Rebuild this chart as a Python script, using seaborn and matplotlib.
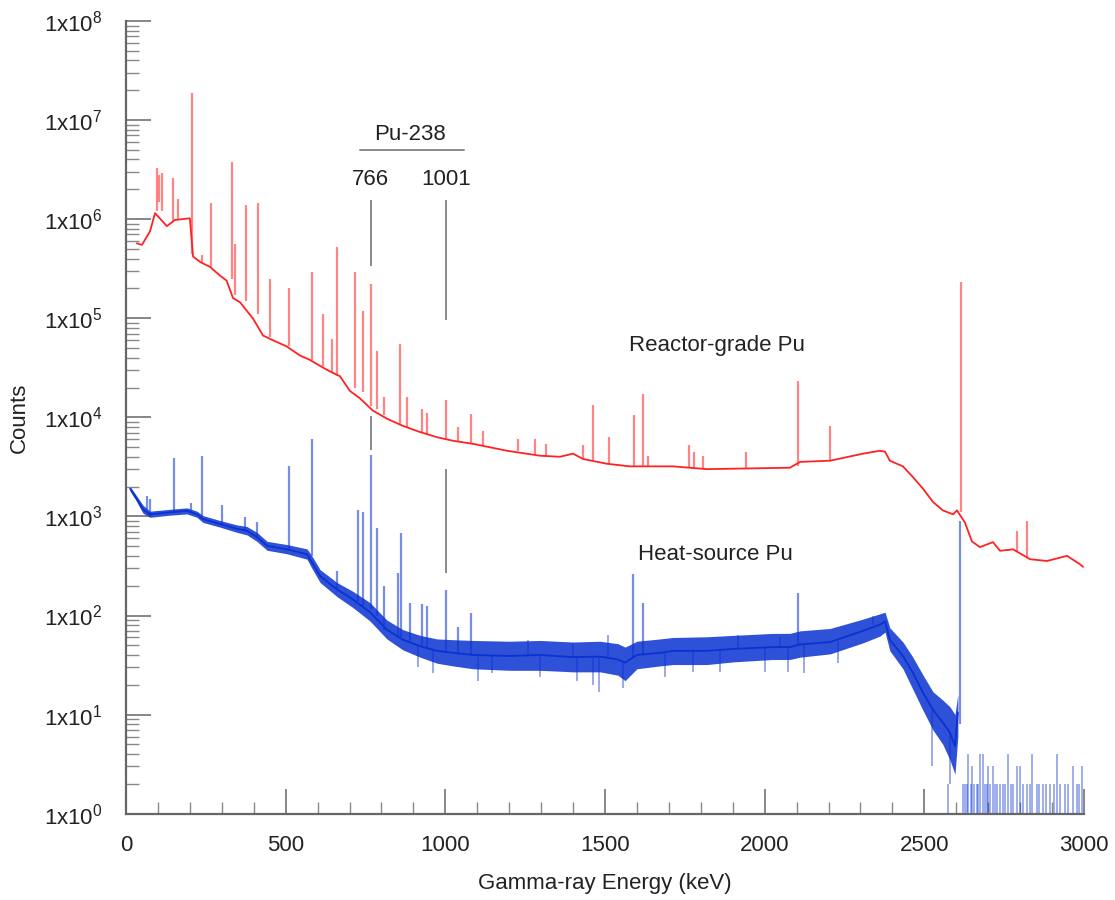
import numpy as np
import matplotlib
matplotlib.use('Agg')
import matplotlib.pyplot as plt
import seaborn as sns
from matplotlib.ticker import FixedLocator, MultipleLocator, FuncFormatter, NullFormatter

# ---------------- data ----------------
# Reactor-grade Pu: continuum
red_base_E = [34, 50, 75, 91, 128, 153, 200, 210, 232, 263, 294, 315, 335, 357, 398, 429, 460,
              503, 545, 576, 608, 639, 670, 701, 733, 773, 817, 867, 921, 974, 1024, 1087, 1193,
              1296, 1359, 1400, 1431, 1506, 1578, 1713, 1819, 2079, 2111, 2205, 2308, 2361, 2377,
              2392, 2433, 2464, 2496, 2527, 2558, 2590, 2602, 2627, 2649, 2674, 2715, 2737, 2778,
              2831, 2884, 2947, 2987, 2997]
red_base_C = [5.7e5, 5.5e5, 7.5e5, 1.15e6, 8.5e5, 9.8e5, 1.02e6, 4.2e5, 3.7e5, 3.3e5, 2.7e5, 2.4e5,
              1.6e5, 1.45e5, 9.9e4, 6.7e4, 6.0e4, 5.2e4, 4.2e4, 3.8e4, 3.3e4, 2.9e4, 2.6e4, 1.85e4,
              1.55e4, 1.17e4, 9.7e3, 8.2e3, 7.1e3, 6.3e3, 5.8e3, 5.4e3, 4.6e3, 4.1e3, 4.0e3, 4.3e3,
              3.8e3, 3.4e3, 3.2e3, 3.2e3, 3.0e3, 3.1e3, 3.55e3, 3.65e3, 4.3e3, 4.6e3, 4.5e3, 3.65e3,
              3.2e3, 2.5e3, 1.9e3, 1.4e3, 1.15e3, 1.05e3, 1.15e3, 870, 560, 490, 550, 450, 465,
              370, 355, 400, 330, 310]
# Reactor-grade Pu: peaks (energy, top, local continuum)
red_peak_E = [96, 104, 113, 147, 163, 208, 238, 265, 332, 341, 375, 413, 451, 511, 582, 617, 645,
              662, 717, 742, 766, 786, 808, 857, 880, 926, 942, 1001, 1040, 1079, 1118, 1228, 1281,
              1315, 1431, 1462, 1513, 1591, 1619, 1634, 1763, 1779, 1807, 1942, 2103, 2205, 2615,
              2790, 2821]
red_peak_C = [3.3e6, 2.8e6, 2.9e6, 2.6e6, 1.6e6, 1.87e7, 4.3e5, 1.45e6, 3.8e6, 5.6e5, 1.4e6, 1.45e6,
              2.5e5, 2.0e5, 2.9e5, 1.1e5, 6.2e4, 5.2e5, 2.9e5, 1.17e5, 2.2e5, 4.7e4, 1.6e4, 5.5e4,
              1.6e4, 1.2e4, 1.1e4, 1.48e4, 8.0e3, 1.08e4, 7.3e3, 6.1e3, 6.1e3, 5.4e3, 5.2e3, 1.34e4,
              6.3e3, 1.05e4, 1.7e4, 4.1e3, 5.3e3, 4.5e3, 4.1e3, 4.5e3, 2.3e4, 8.2e3, 2.3e5, 720, 900]
red_peak_base = [1.2e6, 1.5e6, 1.2e6, 9.5e5, 9.8e5, 4.5e5, 3.6e5, 3.3e5, 2.5e5, 1.7e5, 1.5e5, 1.1e5,
                 6.5e4, 5.2e4, 3.8e4, 3.3e4, 2.8e4, 2.6e4, 2.0e4, 1.8e4, 1.3e4, 1.2e4, 1.05e4, 8.5e3,
                 8.0e3, 7.0e3, 6.8e3, 6.0e3, 5.7e3, 5.4e3, 5.2e3, 4.6e3, 4.2e3, 4.1e3, 3.8e3, 3.6e3,
                 3.4e3, 3.2e3, 3.2e3, 3.2e3, 3.1e3, 3.1e3, 3.0e3, 3.0e3, 3.2e3, 3.65e3, 1.1e3, 440, 380]

# Heat-source Pu: continuum (centre, lower and upper edge of the noise band)
blue_base_E = [13, 34, 53, 75, 138, 191, 222, 241, 294, 348, 379, 410, 442, 504, 567, 582, 608, 661,
               711, 764, 817, 867, 921, 974, 1024, 1087, 1200, 1296, 1400, 1484, 1540, 1563, 1600,
               1672, 1713, 1819, 1900, 2026, 2079, 2111, 2205, 2308, 2361, 2377, 2392, 2433, 2464,
               2496, 2527, 2558, 2580, 2596, 2605]
blue_base_C = [1900, 1500, 1180, 1050, 1100, 1140, 1050, 940, 840, 750, 715, 620, 505, 465, 415, 345,
               250, 183, 145, 108, 72, 57, 49, 44, 42, 40, 39, 40, 38, 38.5, 36, 33.5, 40, 42, 44,
               44, 46, 48, 48, 51, 54, 70, 81, 87, 57, 39, 26.5, 16.6, 11.2, 8.3, 6.6, 4.8, 10.5]
blue_lo = [1800, 1400, 1080, 980, 1030, 1060, 980, 870, 780, 690, 650, 560, 455, 420, 370, 300, 215,
           155, 120, 88, 58, 45, 38, 33, 31, 29, 28, 28, 27, 27, 25, 22, 29, 31, 32, 32, 34, 36, 36,
           38, 41, 53, 62, 68, 44, 29, 18, 11, 7, 5, 3.5, 2.5, 6]
blue_hi = [2000, 1600, 1300, 1130, 1180, 1220, 1130, 1020, 910, 820, 790, 690, 560, 520, 470, 400,
           290, 215, 175, 135, 90, 72, 63, 58, 57, 56, 55, 56, 54, 55, 52, 48, 55, 58, 60, 61, 63,
           66, 66, 70, 74, 92, 104, 108, 75, 54, 38, 25, 17, 14, 12, 10, 16]
# Heat-source Pu: single-channel noise excursions (energy, low end, high end)
blue_spike_E = [915, 961, 1102, 1146, 1259, 1296, 1400, 1412, 1462, 1481, 1509, 1556, 1688, 1776,
                1860, 1916, 2001, 2048, 2073, 2123, 2230, 2339, 2524, 2580]
blue_spike_lo = [30, 26.5, 22, 26.5, 40, 24, 38, 21.6, 20, 17, 38, 18.6, 24, 27, 27, 46, 27, 48,
                 27, 26.5, 33, 80, 3, 2]
blue_spike_hi = [49, 45, 40, 40, 57, 40, 53, 38, 38, 38, 64, 34, 42, 44, 45, 64, 47, 61, 48, 51,
                 55, 98, 11, 6.6]
# Heat-source Pu: peaks (energy, top, local continuum)
blue_peak_E = [66, 75, 150, 204, 237, 300, 373, 410, 510, 582, 661, 726, 741, 766, 785, 808, 852,
               861, 889, 926, 942, 1002, 1040, 1079, 1588, 1619, 2103, 2612]
blue_peak_C = [1600, 1500, 3900, 1360, 4100, 1300, 990, 880, 3200, 6000, 280, 1150, 1100, 4200, 760,
               197, 270, 675, 135, 132, 125, 180, 76, 107, 260, 135, 170, 900]
blue_peak_base = [1150, 1050, 1100, 1100, 1000, 830, 720, 620, 465, 400, 183, 140, 125, 115, 100,
                  72, 62, 60, 55, 49, 47, 43, 42, 40, 38, 40, 50, 8]
# Heat-source Pu: sparse counts above the 2614 keV line
blue_tail_E = [2574, 2620, 2628, 2633, 2638, 2645, 2648, 2655, 2664, 2668, 2674, 2685, 2690, 2695,
               2700, 2705, 2716, 2720, 2728, 2737, 2745, 2752, 2763, 2770, 2779, 2789, 2800, 2810,
               2820, 2830, 2838, 2852, 2860, 2872, 2880, 2894, 2905, 2914, 2925, 2940, 2950, 2967,
               2977, 2985, 2993]
blue_tail_C = [2, 2, 2, 2, 4, 2, 3, 2, 2, 2, 4, 4, 2, 2, 3, 2, 3, 2, 2, 2, 2, 2, 4, 2, 2, 3, 3, 2,
               2, 2, 4, 2, 2, 2, 2, 2, 2, 4, 2, 2, 2, 3, 2, 2, 3]

# annotation and axis ticks
pu238_E = [766, 1001]
pu238_labels = ['766', '1001']
y_decades = list(range(0, 9))

# ---------------- style ----------------
sns.set_theme(style='white')
plt.rcParams['font.family'] = ['Liberation Sans', 'DejaVu Sans']
plt.rcParams['mathtext.fontset'] = 'custom'
plt.rcParams['mathtext.rm'] = 'Liberation Sans'
plt.rcParams['mathtext.default'] = 'regular'

RED = '#ff2222'
BLUE = '#0a32d2'
GREY = '#8a8a8a'
TXT = '#222222'
FS = 16

fig = plt.figure(figsize=(11.15, 9), dpi=100)
ax = fig.add_axes([0.1130, 0.0959, 0.8592, 0.8808])
ax.set_yscale('log')

# Reactor-grade Pu
ax.vlines(red_peak_E, red_peak_base, red_peak_C, color=RED, alpha=0.55, lw=1.6)
sns.lineplot(x=red_base_E, y=red_base_C, ax=ax, color=RED, lw=1.3, estimator=None, sort=False)

# Heat-source Pu
ax.fill_between(blue_base_E, blue_lo, blue_hi, color=BLUE, alpha=0.85, lw=0)
ax.vlines(blue_spike_E, blue_spike_lo, blue_spike_hi, color=BLUE, alpha=0.45, lw=1.3)
ax.vlines(blue_peak_E, blue_peak_base, blue_peak_C, color=BLUE, alpha=0.55, lw=1.6)
ax.vlines(blue_tail_E, 0.5, blue_tail_C, color=BLUE, alpha=0.5, lw=1.1)
sns.lineplot(x=blue_base_E, y=blue_base_C, ax=ax, color=BLUE, lw=1.3, estimator=None, sort=False)

ax.set_xlim(0, 3000)
ax.set_ylim(1, 1e8)

# Pu-238 annotation
ax.text(889, 7.1e6, 'Pu-238', ha='center', va='center', fontsize=FS, color=TXT)
ax.plot([733, 1058], [4.98e6, 4.98e6], color=GREY, lw=1.4)
for e, lab in zip(pu238_E, pu238_labels):
    ax.text(e, 2.5e6, lab, ha='center', va='center', fontsize=FS, color=TXT)
ax.vlines([pu238_E[0], pu238_E[0], pu238_E[1], pu238_E[1]],
          [3.34e5, 4.7e3, 9.6e4, 271], [1.56e6, 1.04e4, 1.56e6, 3.0e3], color=GREY, lw=1.4)

ax.text(1850, 5.3e4, 'Reactor-grade Pu', ha='center', va='center', fontsize=FS, color=TXT)
ax.text(1847, 415, 'Heat-source Pu', ha='center', va='center', fontsize=FS, color=TXT)

# axes
ax.yaxis.set_major_locator(FixedLocator([10.0 ** k for k in y_decades]))
ax.yaxis.set_minor_locator(FixedLocator([m * 10.0 ** k for k in y_decades[:-1] for m in range(2, 10)]))
ax.yaxis.set_minor_formatter(NullFormatter())
ax.yaxis.set_major_formatter(FuncFormatter(lambda v, p: r'$\mathregular{1x10^{%d}}$' % int(round(np.log10(v)))))
ax.xaxis.set_major_locator(MultipleLocator(500))
ax.xaxis.set_minor_locator(MultipleLocator(100))

ax.tick_params(which='major', direction='in', length=18, width=1.1, color='#666666',
               labelsize=FS, labelcolor=TXT)
ax.tick_params(which='minor', direction='in', length=9, width=1.0, color='#888888')
ax.tick_params(axis='y', which='both', left=True, right=False, pad=17)
ax.tick_params(axis='x', which='both', bottom=True, top=False, pad=15)

sns.despine(ax=ax)
for s in ['left', 'bottom']:
    ax.spines[s].set_color('#666666')
    ax.spines[s].set_linewidth(1.6)

ax.set_xlabel('Gamma-ray Energy (keV)', fontsize=FS, color=TXT)
ax.set_ylabel('Counts', fontsize=FS, color=TXT)
ax.xaxis.set_label_coords(0.5, -0.075)
ax.yaxis.set_label_coords(-0.100, 0.5)

fig.savefig('out.png', dpi=100)
